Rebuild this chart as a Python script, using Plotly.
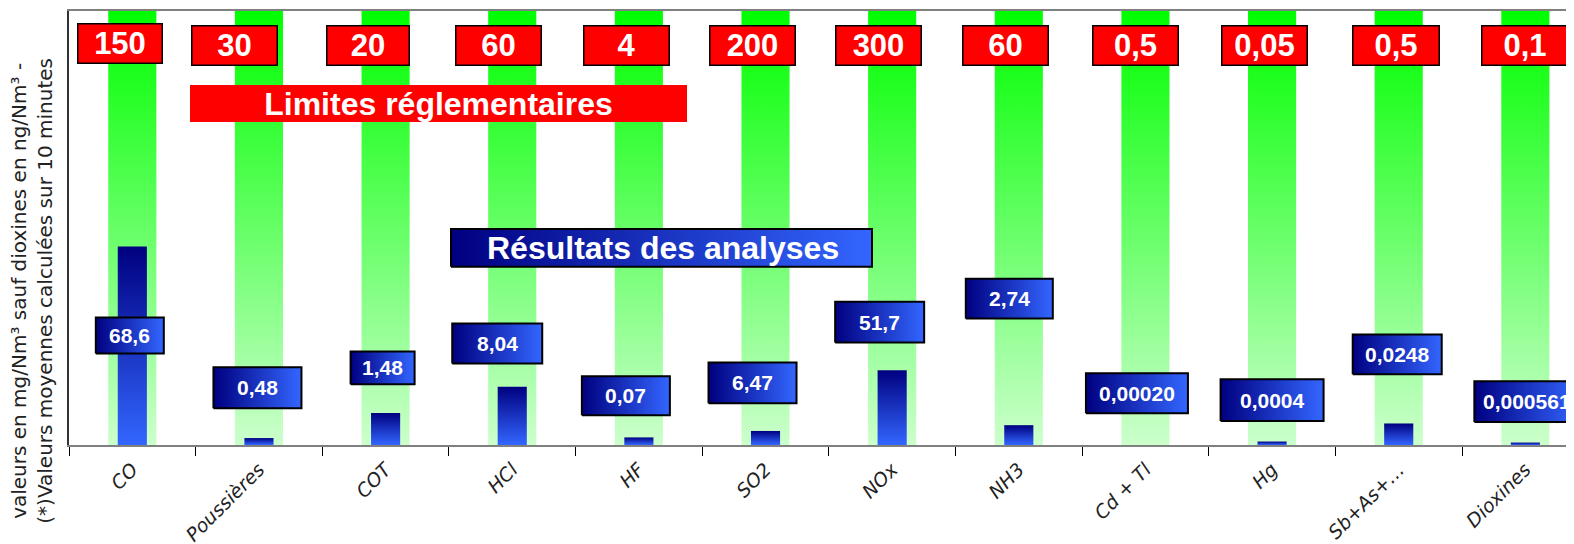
import plotly.graph_objects as go

# ---------------- data ----------------
categories = ["CO", "Poussières", "COT", "HCl", "HF", "SO2", "NOx", "NH3",
              "Cd + Tl", "Hg", "Sb+As+…", "Dioxines"]
limits = [150, 30, 20, 60, 4, 200, 300, 60, 0.5, 0.05, 0.5, 0.1]
limit_labels = ["150", "30", "20", "60", "4", "200", "300", "60", "0,5", "0,05", "0,5", "0,1"]
results = [68.6, 0.48, 1.48, 8.04, 0.07, 6.47, 51.7, 2.74, 0.00020, 0.0004, 0.0248, 0.000561]
result_labels = ["68,6", "0,48", "1,48", "8,04", "0,07", "6,47", "51,7", "2,74",
                 "0,00020", "0,0004", "0,0248", "0,000561"]

y_title = "valeurs en mg/Nm³ sauf dioxines en ng/Nm³ -<br>(*)Valeurs moyennes calculées sur 10 minutes"
title_limits = "Limites réglementaires"
title_results = "Résultats des analyses"

# percentage of the regulatory limit (bar height)
pct = [r / l * 100 for r, l in zip(results, limits)]

# ---------------- layout geometry ----------------
W, H = 1574, 544
OFF = 8                      # page body margin (screen px -> figure px)
SCR_LEFT, SCR_TOP, SCR_BOT = 69, 9, 445   # plot area edges on screen
ML = SCR_LEFT - OFF
MT = SCR_TOP - OFF
MB = H - (SCR_BOT - OFF)
MR = OFF
PW = W - ML - MR
PH = H - MT - MB
CAT_W = 126.64
X_RANGE = [-0.5, -0.5 + PW / CAT_W]
Y_RANGE = [0, 100]


def px2x(px):          # screen px -> data x
    return -0.5 + (px - SCR_LEFT) / CAT_W


def px2y(py):          # screen px -> data y (% of limit)
    return (SCR_BOT - py) / PH * 100


def cat_center_px(i):
    return SCR_LEFT + CAT_W * (i + 0.5)


# label box placement (offsets from category centre, screen px)
red_dx = [-12, -24, -18, -14, -12, -13, -14, -13, -10, -8, -3, 0]
red_w = [86, 87, 84, 87, 87, 87, 87, 87, 87, 87, 88, 88]
red_cy = [41.5, 43.5, 43.5, 43.5, 43.5, 43.5, 43.5, 43.5, 43.5, 43.5, 43.5, 43.5]
red_h = 41

val_dx = [-2.5, -1.5, -3, -15, -13, -13, -12.5, -9.5, -8.5, 0, -1.5, 2]
val_w = [68, 88, 64, 90, 88, 88, 89, 87, 102, 103, 89, 106]
val_cy = [335, 387.5, 367.5, 343, 395.5, 382.5, 321.5, 298, 393, 400, 354, 401.5]
val_h = [36, 41, 33, 40, 39, 41, 41, 40, 40, 42, 40, 41]

GREEN_HALF = 0.19
BLUE_HALF = 0.115

fig = go.Figure()

# green background columns (100 % = limit)
for i in range(len(categories)):
    x0, x1 = i - GREEN_HALF, i + GREEN_HALF
    fig.add_trace(go.Scatter(
        x=[x0, x1, x1, x0, x0], y=[0, 0, 100, 100, 0],
        mode="lines", line=dict(width=0), fill="toself",
        fillgradient=dict(type="vertical", colorscale=[[0, "#ccffcc"], [1, "#00ff00"]]),
        hoverinfo="skip", showlegend=False))

# blue result bars (as % of limit)
for i, p in enumerate(pct):
    x0, x1 = i - BLUE_HALF, i + BLUE_HALF
    fig.add_trace(go.Scatter(
        x=[x0, x1, x1, x0, x0], y=[0, 0, p, p, 0],
        mode="lines", line=dict(width=0), fill="toself",
        fillgradient=dict(type="vertical", colorscale=[[0, "#3366ff"], [1, "#000080"]]),
        hovertext=f"{categories[i]}: {result_labels[i]}", hoverinfo="text", showlegend=False))


def grad_box(cx, cy, w, h):
    x0, x1 = px2x(cx - w / 2), px2x(cx + w / 2)
    y0, y1 = px2y(cy + h / 2), px2y(cy - h / 2)
    fig.add_trace(go.Scatter(
        x=[x0, x1, x1, x0, x0], y=[y0, y0, y1, y1, y0],
        mode="lines", line=dict(color="#000000", width=2), fill="toself",
        fillgradient=dict(type="horizontal", colorscale=[[0, "#000080"], [1, "#3366ff"]]),
        hoverinfo="skip", showlegend=False))


# value boxes
for i, lab in enumerate(result_labels):
    cx = cat_center_px(i) + val_dx[i]
    grad_box(cx, val_cy[i], val_w[i], val_h[i])
    fig.add_annotation(x=px2x(cx), y=px2y(val_cy[i]), xref="x", yref="y",
                       text=lab, showarrow=False, xanchor="center", yanchor="middle",
                       font=dict(family="Liberation Sans, Arial", size=21, color="white", weight="bold"))

# "Résultats des analyses" box
grad_box(661.5, 247, 421, 38)
fig.add_annotation(x=px2x(663), y=px2y(247), xref="x", yref="y", text=title_results,
                   showarrow=False, xanchor="center", yanchor="middle",
                   font=dict(family="Liberation Sans, Arial", size=32, color="white", weight="bold"))

# "Limites réglementaires" box
fig.add_annotation(x=px2x(438.5), y=px2y(102), xref="x", yref="y", text=title_limits,
                   showarrow=False, xanchor="center", yanchor="middle",
                   width=497, height=37, bgcolor="#ff0000", borderpad=0, borderwidth=0,
                   font=dict(family="Liberation Sans, Arial", size=32, color="white", weight="bold"))

# limit (red) boxes
for i, lab in enumerate(limit_labels):
    cx = cat_center_px(i) + red_dx[i]
    fig.add_annotation(x=px2x(cx), y=px2y(red_cy[i]), xref="x", yref="y", text=lab,
                       showarrow=False, xanchor="center", yanchor="middle",
                       width=red_w[i] - 3, height=red_h - 3, bgcolor="#ff0000",
                       bordercolor="#000000", borderwidth=1.5, borderpad=0,
                       font=dict(family="Liberation Sans, Arial", size=31, color="white", weight="bold"))

# y-axis title
fig.add_annotation(x=(32 - SCR_LEFT) / PW, y=(SCR_BOT - 290) / PH, xref="paper", yref="paper",
                   text=y_title, textangle=-90, showarrow=False,
                   xanchor="center", yanchor="middle", align="center",
                   font=dict(family="DejaVu Sans", size=20, color="#222222"))

fig.update_layout(
    width=W, height=H,
    margin=dict(l=ML, r=MR, t=MT, b=MB, pad=0),
    paper_bgcolor="white", plot_bgcolor="white",
    showlegend=False,
    xaxis=dict(range=X_RANGE, showgrid=False, zeroline=False,
               tickmode="array", tickvals=list(range(len(categories))), ticktext=categories,
               tickangle=-45, ticks="", ticklabelstandoff=4,
               tickfont=dict(family="DejaVu Sans", size=19, color="#222222", style="italic"),
               minor=dict(tickmode="array", tickvals=[k - 0.5 for k in range(len(categories) + 1)],
                          ticks="outside", ticklen=9, tickwidth=1, tickcolor="#000000", showgrid=False),
               showline=True, linecolor="#808080", linewidth=2, mirror=True, fixedrange=True),
    yaxis=dict(range=Y_RANGE, showgrid=False, zeroline=False, showticklabels=False, ticks="",
               showline=True, linecolor="#333333", linewidth=2, mirror=False, fixedrange=True),
)

fig.write_html("out.html")
